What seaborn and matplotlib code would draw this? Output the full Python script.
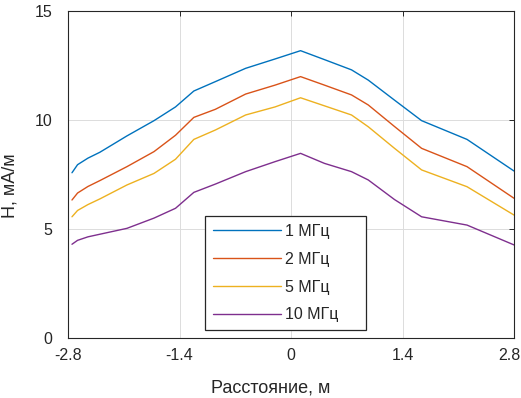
import pandas as pd
import seaborn as sns
import matplotlib.pyplot as plt
from matplotlib.transforms import ScaledTranslation

# data
distance = [-2.75, -2.68, -2.55, -2.4, -2.06, -1.72, -1.45, -1.22, -0.95, -0.57, -0.2,
            0.12, 0.42, 0.76, 0.97, 1.3, 1.64, 2.21, 2.8]
h_1mhz = [7.58, 7.95, 8.25, 8.52, 9.27, 9.97, 10.6, 11.33, 11.76, 12.37, 12.8,
          13.18, 12.77, 12.3, 11.83, 10.91, 9.97, 9.11, 7.66]
h_2mhz = [6.33, 6.65, 6.95, 7.22, 7.86, 8.55, 9.3, 10.12, 10.49, 11.19, 11.6,
          11.99, 11.6, 11.15, 10.69, 9.7, 8.7, 7.86, 6.41]
h_5mhz = [5.56, 5.85, 6.12, 6.38, 7.02, 7.55, 8.2, 9.11, 9.54, 10.23, 10.6,
          11.02, 10.65, 10.23, 9.69, 8.7, 7.71, 6.94, 5.64]
h_10mhz = [4.30, 4.48, 4.64, 4.76, 5.03, 5.5, 5.95, 6.68, 7.06, 7.63, 8.09,
           8.47, 8.01, 7.63, 7.25, 6.35, 5.56, 5.18, 4.27]
labels = ["1 МГц", "2 МГц", "5 МГц", "10 МГц"]
x_ticks = [-2.8, -1.4, 0, 1.4, 2.8]
x_tick_labels = ["-2.8", "-1.4", "0", "1.4", "2.8"]
y_ticks = [0, 5, 10, 15]

colors = ["#0072BD", "#D95319", "#EDB120", "#7E2F8E"]

frames = []
for lab, vals in zip(labels, [h_1mhz, h_2mhz, h_5mhz, h_10mhz]):
    frames.append(pd.DataFrame({"x": distance, "H": vals, "f": lab}))
df = pd.concat(frames, ignore_index=True)

sns.set_style("white")
plt.rcParams["font.family"] = ["Liberation Sans", "DejaVu Sans"]
plt.rcParams["axes.unicode_minus"] = False

fig = plt.figure(figsize=(5.21, 3.98), dpi=100)
ax = fig.add_axes([68 / 521, 1 - 338 / 398, 446 / 521, 327 / 398])

sns.lineplot(data=df, x="x", y="H", hue="f", hue_order=labels, palette=colors,
             linewidth=1.0, ax=ax, sort=False)

ax.set_xlim(-2.8, 2.8)
ax.set_ylim(0, 15)
ax.set_xticks(x_ticks, x_tick_labels)
ax.set_yticks(y_ticks, [str(v) for v in y_ticks])
ax.grid(True, color="#dcdcdc", linewidth=0.7)
ax.tick_params(direction="in", top=True, right=True, length=3.5, width=0.7,
               labelsize=11.5, colors="#262626")
ax.tick_params(axis="x", pad=7.5)
ax.tick_params(axis="y", pad=11.5)
for s in ax.spines.values():
    s.set_color("#262626")
    s.set_linewidth(0.8)

# last x label sits against the figure edge, nudge it left a bit
last = ax.get_xticklabels()[-1]
last.set_transform(last.get_transform() + ScaledTranslation(-5 / 100, 0, fig.dpi_scale_trans))

ax.set_xlabel("Расстояние, м", fontsize=13, color="#262626", va="top")
ax.set_ylabel("H, мА/м", fontsize=13, color="#262626")
ax.xaxis.set_label_coords(0.455, -0.128)
ax.yaxis.set_label_coords(-0.11, 0.465)

leg = ax.legend(loc="upper left", bbox_to_anchor=(0.3072, 0.0, 0.361, 0.373),
                mode="expand", borderaxespad=0, fontsize=11.5, frameon=True,
                fancybox=False, framealpha=1, edgecolor="#262626",
                handlelength=4.25, handletextpad=0.25, labelspacing=0.8,
                borderpad=0.5, title=None)
leg.get_frame().set_linewidth(0.9)

plt.savefig("out.png", dpi=100)
